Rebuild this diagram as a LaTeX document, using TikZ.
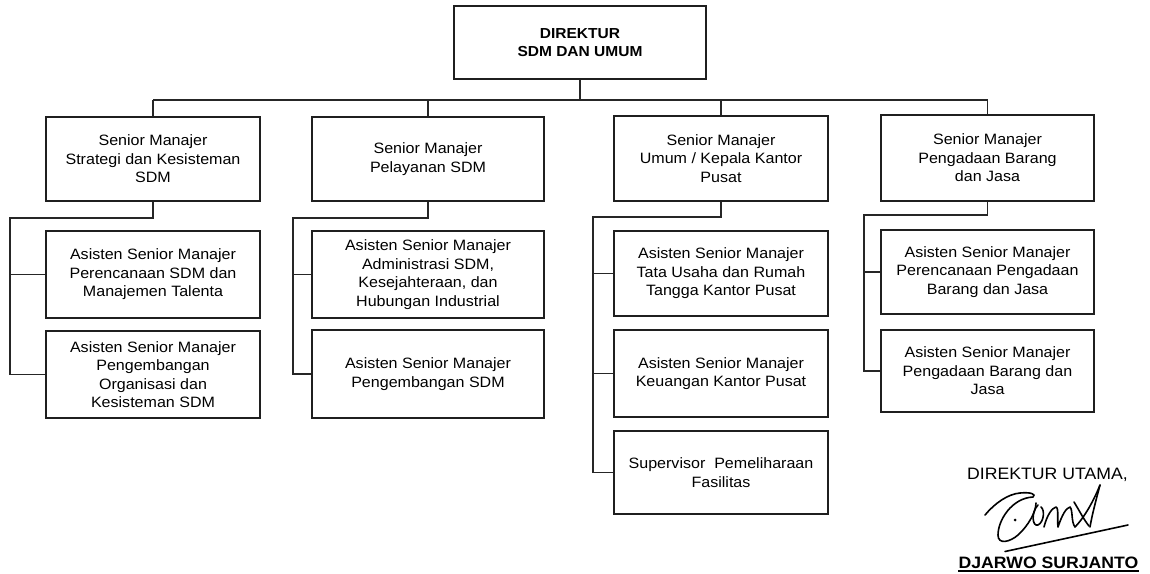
\documentclass[tikz,border=0pt]{standalone}
\usepackage{fontspec}
\setmainfont{Liberation Sans}[FakeStretch=1.07]
\begin{document}
\begin{tikzpicture}[x=1pt,y=-1pt,
  line width=1.1pt,
  unit/.style={draw=black!88, line width=1.2pt, rectangle, align=center, inner sep=2pt,
    font=\fontsize{15}{18.5}\selectfont},
  head/.style={unit, font=\fontsize{14.5}{18.5}\selectfont\bfseries},
  link/.style={draw=black!85, line width=1.1pt}]
\useasboundingbox (0,0) rectangle (1150,573);

% Director
\node[head, minimum width=252pt, minimum height=73pt] (dir) at (580,42.5) {DIREKTUR\\SDM DAN UMUM};

% Senior managers
\node[unit, minimum width=214pt, minimum height=84pt] (s1) at (153,159) {Senior Manajer\\Strategi dan Kesisteman\\SDM};
\node[unit, minimum width=232pt, minimum height=84pt] (s2) at (428,159) {Senior Manajer\\Pelayanan SDM};
\node[unit, minimum width=214pt, minimum height=85pt] (s3) at (721,158.5) {Senior Manajer\\Umum / Kepala Kantor\\Pusat};
\node[unit, minimum width=213pt, minimum height=86pt] (s4) at (987.5,158) {Senior Manajer\\Pengadaan Barang\\dan Jasa};

% Assistants, column 1
\node[unit, minimum width=214pt, minimum height=87pt] (a11) at (153,274.5) {Asisten Senior Manajer\\Perencanaan SDM dan\\Manajemen Talenta};
\node[unit, minimum width=214pt, minimum height=87pt] (a12) at (153,374.5) {Asisten Senior Manajer\\Pengembangan\\Organisasi dan\\Kesisteman SDM};
% column 2
\node[unit, minimum width=232pt, minimum height=87pt] (a21) at (428,274.5) {Asisten Senior Manajer\\Administrasi SDM,\\Kesejahteraan, dan\\Hubungan Industrial};
\node[unit, minimum width=232pt, minimum height=88pt] (a22) at (428,374) {Asisten Senior Manajer\\Pengembangan SDM};
% column 3
\node[unit, minimum width=214pt, minimum height=85pt] (a31) at (721,273.5) {Asisten Senior Manajer\\Tata Usaha dan Rumah\\Tangga Kantor Pusat};
\node[unit, minimum width=214pt, minimum height=87pt] (a32) at (721,373.5) {Asisten Senior Manajer\\Keuangan Kantor Pusat};
\node[unit, minimum width=214pt, minimum height=83pt] (a33) at (721,472.5) {Supervisor\ \ Pemeliharaan\\Fasilitas};
% column 4
\node[unit, minimum width=213pt, minimum height=84pt] (a41) at (987.5,272) {Asisten Senior Manajer\\Perencanaan Pengadaan\\Barang dan Jasa};
\node[unit, minimum width=213pt, minimum height=82pt] (a42) at (987.5,371) {Asisten Senior Manajer\\Pengadaan Barang dan\\Jasa};

% Main bus
\coordinate (busL) at (153,100);
\coordinate (busR) at (987.5,100);
\draw[link] (dir.south) -- (dir.south |- busL);
\draw[link] (busL) -- (busR);
\foreach \s in {s1,s2,s3,s4} \draw[link] (\s.north) -- (\s.north |- busL);

% Column buses
\coordinate (k1) at (10,218);
\coordinate (k2) at (293,218);
\coordinate (k3) at (593,217);
\coordinate (k4) at (864,215);
\draw[link] (s1.south) |- (k1) -- (k1 |- a12.west) -- (a12.west);
\draw[link] (k1 |- a11.west) -- (a11.west);
\draw[link] (s2.south) |- (k2) -- (k2 |- a22.west) -- (a22.west);
\draw[link] (k2 |- a21.west) -- (a21.west);
\draw[link] (s3.south) |- (k3) -- (k3 |- a33.west) -- (a33.west);
\draw[link] (k3 |- a31.west) -- (a31.west);
\draw[link] (k3 |- a32.west) -- (a32.west);
\draw[link] (s4.south) |- (k4) -- (k4 |- a42.west) -- (a42.west);
\draw[link] (k4 |- a41.west) -- (a41.west);

% Signature block
\node[font=\fontsize{16.5}{20}\selectfont] (ttl) at (1047.5,475) {DIREKTUR UTAMA,};
\node[font=\fontsize{16.5}{20}\selectfont\bfseries, inner sep=0pt, anchor=base] (nm) at (1048.5,568) {DJARWO SURJANTO};
\draw[line width=1.3pt] ([yshift=-2.2pt]nm.south west) -- ([yshift=-2.2pt]nm.south east);
\begin{scope}[line width=1.6pt, line cap=round, line join=round]
  % handwritten signature
  \draw (985,515) .. controls (995,503) and (1008,494) .. (1020,493)
        .. controls (1030,492) and (1037,494) .. (1033,497)
        .. controls (1012,498) and (998,520) .. (998,535)
        .. controls (998,545) and (1010,542) .. (1018,535)
        .. controls (1028,526) and (1036,512) .. (1036,503);
  \fill (1015,520) circle (1.5pt);
  \draw (1038,505) .. controls (1031,512) and (1032,527) .. (1038,525)
        .. controls (1044,522) and (1045,510) .. (1041,507);
  \draw (1044,527) .. controls (1047,515) and (1052,508) .. (1056,507)
        .. controls (1059,508) and (1057,520) .. (1058,527)
        .. controls (1062,515) and (1066,508) .. (1070,507)
        .. controls (1073,510) and (1071,522) .. (1075,527)
        .. controls (1082,520) and (1092,505) .. (1100,485);
  \draw (1100,485) .. controls (1096,500) and (1092,515) .. (1090,527);
  \draw (1074,502) .. controls (1079,510) and (1084,520) .. (1089,526);
  \draw (1005,551.5) -- (1128,525);
\end{scope}
\end{tikzpicture}
\end{document}
